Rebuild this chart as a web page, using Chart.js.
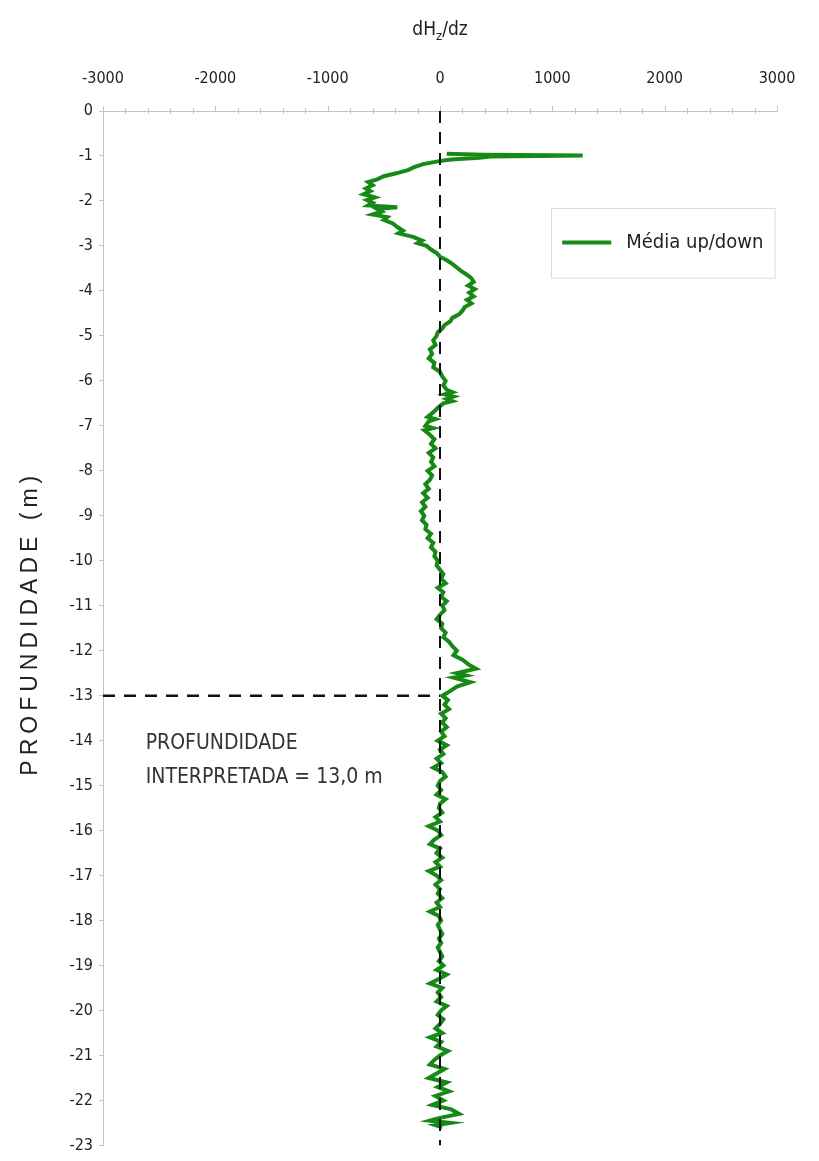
<!DOCTYPE html>
<html lang="pt">
<head>
<meta charset="UTF-8">
<title>dHz/dz x Profundidade</title>
<script src="https://cdn.jsdelivr.net/npm/chart.js"></script>
<style>
    body { margin: 0; background: #fff; }
    #chart { display: block; }
</style>
</head>
<body>
<canvas id="chart" width="819" height="1161"></canvas>
<script>
// profundidade (m) e valores de dHz/dz
const depth = [
    -0.95, -0.97, -0.99, -1.01, -1.04, -1.08, -1.12, -1.18, -1.25, -1.31,
    -1.38, -1.45, -1.52, -1.58, -1.65, -1.72, -1.78, -1.85, -1.92, -1.98,
    -2.04, -2.10, -2.14, -2.18, -2.24, -2.30, -2.36, -2.42, -2.50, -2.58,
    -2.66, -2.72, -2.80, -2.88, -2.94, -3.00, -3.08, -3.16, -3.24, -3.32,
    -3.40, -3.48, -3.56, -3.64, -3.72, -3.80, -3.88, -3.96, -4.04, -4.12,
    -4.20, -4.28, -4.36, -4.44, -4.52, -4.60, -4.68, -4.76, -4.84, -4.92,
    -5.0, -5.1, -5.2, -5.3, -5.4, -5.5, -5.6, -5.7, -5.8, -5.9,
    -6.0, -6.1, -6.2, -6.25, -6.3, -6.35, -6.4, -6.45, -6.5, -6.6,
    -6.7, -6.8, -6.85, -6.9, -7.0, -7.05, -7.1, -7.2, -7.3, -7.4,
    -7.5, -7.6, -7.7, -7.8, -7.9, -8.0, -8.1, -8.2, -8.3, -8.4,
    -8.5, -8.6, -8.7, -8.8, -8.9, -9.0, -9.1, -9.2, -9.3, -9.4,
    -9.5, -9.6, -9.7, -9.8, -9.9, -10.0, -10.1, -10.2, -10.3, -10.4,
    -10.5, -10.6, -10.7, -10.8, -10.9, -11.0, -11.1, -11.2, -11.3, -11.4,
    -11.5, -11.6, -11.7, -11.8, -11.9, -12.0, -12.1, -12.2, -12.3, -12.4,
    -12.5, -12.55, -12.6, -12.7, -12.8, -12.9, -13.0, -13.1, -13.2, -13.3,
    -13.4, -13.5, -13.6, -13.7, -13.8, -13.9, -14.0, -14.1, -14.2, -14.3,
    -14.4, -14.5, -14.6, -14.7, -14.8, -14.9, -15.0, -15.1, -15.2, -15.3,
    -15.4, -15.5, -15.6, -15.7, -15.8, -15.9, -16.0, -16.1, -16.2, -16.3,
    -16.4, -16.5, -16.6, -16.7, -16.8, -16.9, -17.0, -17.1, -17.2, -17.3,
    -17.4, -17.5, -17.6, -17.7, -17.8, -17.9, -18.0, -18.1, -18.2, -18.3,
    -18.4, -18.5, -18.6, -18.7, -18.8, -18.9, -19.0, -19.1, -19.2, -19.3,
    -19.4, -19.5, -19.6, -19.7, -19.8, -19.9, -20.0, -20.1, -20.2, -20.3,
    -20.4, -20.5, -20.6, -20.7, -20.8, -20.9, -21.0, -21.1, -21.2, -21.3,
    -21.4, -21.5, -21.6, -21.7, -21.8, -21.9, -22.0, -22.1, -22.2, -22.3,
    -22.4, -22.45, -22.5, -22.55, -22.6
];
const mediaUpDown = [
    60, 380, 1270, 450, 350, 100, -20, -150, -230, -280,
    -380, -500, -560, -640, -600, -660, -620, -680, -580, -650,
    -600, -640, -380, -560, -520, -600, -470, -500, -420, -380,
    -330, -370, -240, -160, -200, -120, -80, -30, 0, 60,
    110, 150, 190, 240, 280, 300, 250, 310, 260, 300,
    240, 280, 220, 200, 170, 110, 90, 40, 20, -20,
    -30, -60, -40, -90, -70, -100, -50, -60, 0, 20,
    50, 30, 60, 110, 40, 120, 60, 110, 30, -20,
    -60, -110, -40, -100, -130, -60, -140, -90, -50, -80,
    -40, -100, -60, -80, -50, -110, -70, -90, -130, -100,
    -150, -110, -160, -130, -170, -140, -160, -120, -130, -80,
    -110, -60, -80, -40, -50, -20, -30, 0, 30, 10,
    50, -20, 30, 10, 60, 20, 40, 0, -30, 20,
    10, 50, 30, 80, 110, 150, 120, 200, 250, 320,
    150, 230, 120, 270, 150, 90, 20, 70, 40, 80,
    10, 50, 20, 60, 10, 40, -20, 60, 0, 30,
    -30, 10, -60, 20, 50, 0, -20, 10, -30, 50,
    0, -10, 20, -40, 0, -100, -20, 10, -50, -90,
    0, -30, 20, -40, 0, -100, -30, 10, -40, 0,
    -20, 20, -30, 0, -90, -10, 10, -20, 0, 20,
    -10, 10, -20, 0, 20, -10, 30, -30, 60, -10,
    -90, 20, -20, 10, -30, 60, 10, -20, 30, 0,
    -40, 20, -90, 10, -30, 70, 0, -50, -90, 40,
    -30, -100, 60, -20, 80, -40, 30, -70, 100, 170,
    -20, -90, 90, -40, 20
];
// linhas de referencia: zero e profundidade interpretada
const zeroLineX = [0, 0];
const zeroLineY = [0, -23];
const interpX = [-3000, 0];
const interpY = [-13, -13];

const seriesLabel = 'Média up/down';
const xTitle = ['dH', 'z', '/dz'];
const yTitle = 'PROFUNDIDADE (m)';
const noteLines = ['PROFUNDIDADE', 'INTERPRETADA = 13,0 m'];

const GREEN = '#168916';
const AXIS = '#c4c4c4';
const NARROW = "'DejaVu Sans Condensed', 'Liberation Sans Narrow', 'Liberation Sans', Arial, sans-serif";
const SANS = "'Liberation Sans', Arial, sans-serif";

function pts(xs, ys) {
    return xs.map((x, i) => ({ x: x, y: ys[i] }));
}

// minor ticks on top axis + texts not handled by Chart.js
const extras = {
    id: 'extras',
    afterDraw(chart) {
        const ctx = chart.ctx;
        const xs = chart.scales.x;
        const ys = chart.scales.y;
        const top = chart.chartArea.top;
        ctx.save();
        ctx.strokeStyle = AXIS;
        ctx.lineWidth = 1;
        for (let v = -3000; v <= 3000; v += 200) {
            const px = Math.round(xs.getPixelForValue(v)) + 0.5;
            const major = v % 1000 === 0;
            ctx.beginPath();
            ctx.moveTo(px, top - (major ? 5 : 3));
            ctx.lineTo(px, top + (major ? 0 : 3));
            ctx.stroke();
        }

        // x title with subscript
        ctx.fillStyle = '#222';
        ctx.textBaseline = 'alphabetic';
        const f1 = '19px ' + NARROW;
        const f2 = '13px ' + NARROW;
        ctx.font = f1;
        const w1 = ctx.measureText(xTitle[0]).width;
        const w3 = ctx.measureText(xTitle[2]).width;
        ctx.font = f2;
        const w2 = ctx.measureText(xTitle[1]).width;
        let tx = xs.getPixelForValue(0) - (w1 + w2 + w3) / 2;
        const ty = 35;
        ctx.font = f1;
        ctx.fillText(xTitle[0], tx, ty);
        ctx.font = f2;
        ctx.fillText(xTitle[1], tx + w1, ty + 5);
        ctx.font = f1;
        ctx.fillText(xTitle[2], tx + w1 + w2, ty);

        // y title, rotated
        ctx.save();
        ctx.translate(31, (chart.chartArea.top + chart.chartArea.bottom) / 2 - 5);
        ctx.rotate(-Math.PI / 2);
        ctx.font = '23px ' + SANS;
        ctx.letterSpacing = '5px';
        ctx.textAlign = 'center';
        ctx.textBaseline = 'middle';
        ctx.fillStyle = '#222';
        ctx.fillText(yTitle, 0, 0);
        ctx.restore();

        // note
        ctx.font = '21px ' + NARROW;
        ctx.fillStyle = '#333';
        ctx.textAlign = 'left';
        ctx.textBaseline = 'middle';
        const nx = xs.getPixelForValue(-2620);
        ctx.fillText(noteLines[0], nx, ys.getPixelForValue(-14.06));
        ctx.fillText(noteLines[1], nx, ys.getPixelForValue(-14.81));

        // legend box
        const lx = xs.getPixelForValue(990);
        const lyTop = ys.getPixelForValue(-2.15);
        const lyBot = ys.getPixelForValue(-3.7);
        const lr = xs.getPixelForValue(2980);
        ctx.strokeStyle = '#dcdcdc';
        ctx.lineWidth = 1;
        ctx.fillStyle = '#fff';
        ctx.fillRect(lx, lyTop, lr - lx, lyBot - lyTop);
        ctx.strokeRect(Math.round(lx) + 0.5, Math.round(lyTop) + 0.5, lr - lx, lyBot - lyTop);
        const ly = (lyTop + lyBot) / 2;
        ctx.strokeStyle = GREEN;
        ctx.lineWidth = 4;
        ctx.beginPath();
        ctx.moveTo(lx + 11, ly);
        ctx.lineTo(lx + 60, ly);
        ctx.stroke();
        ctx.fillStyle = '#222';
        ctx.font = '20px ' + NARROW;
        ctx.fillText(chart.data.datasets[0].label, lx + 75, ly);
        ctx.restore();
    }
};

new Chart(document.getElementById('chart'), {
    type: 'scatter',
    data: {
        datasets: [
            {
                label: seriesLabel,
                data: pts(mediaUpDown, depth),
                showLine: true,
                borderColor: GREEN,
                borderWidth: 4,
                pointRadius: 0,
                tension: 0,
                order: 2
            },
            {
                label: 'zero',
                data: pts(zeroLineX, zeroLineY),
                showLine: true,
                borderColor: '#111',
                borderWidth: 2,
                borderDash: [12, 9],
                pointRadius: 0,
                order: 1
            },
            {
                label: 'interpretada',
                data: pts(interpX, interpY),
                showLine: true,
                borderColor: '#111',
                borderWidth: 2.5,
                borderDash: [12, 9],
                pointRadius: 0,
                order: 1
            }
        ]
    },
    options: {
        responsive: false,
        animation: false,
        layout: { padding: { left: 0, right: 42, top: 0, bottom: 13 } },
        plugins: {
            legend: { display: false },
            tooltip: { enabled: false }
        },
        scales: {
            x: {
                type: 'linear',
                position: 'top',
                min: -3000,
                max: 3000,
                ticks: {
                    stepSize: 1000,
                    padding: 15,
                    color: '#222',
                    font: { family: NARROW, size: 16 },
                    callback: v => String(v)
                },
                grid: { display: false },
                border: { color: AXIS, width: 1 },
                afterFit(scale) { scale.height = 111; }
            },
            y: {
                type: 'linear',
                min: -23,
                max: 0,
                ticks: {
                    stepSize: 1,
                    padding: 6,
                    color: '#222',
                    font: { family: NARROW, size: 16 },
                    callback: v => String(v)
                },
                grid: { drawOnChartArea: false, tickLength: 4, color: AXIS },
                border: { color: AXIS, width: 1 },
                afterFit(scale) { scale.width = 103; }
            }
        }
    },
    plugins: [extras]
});
</script>
</body>
</html>
